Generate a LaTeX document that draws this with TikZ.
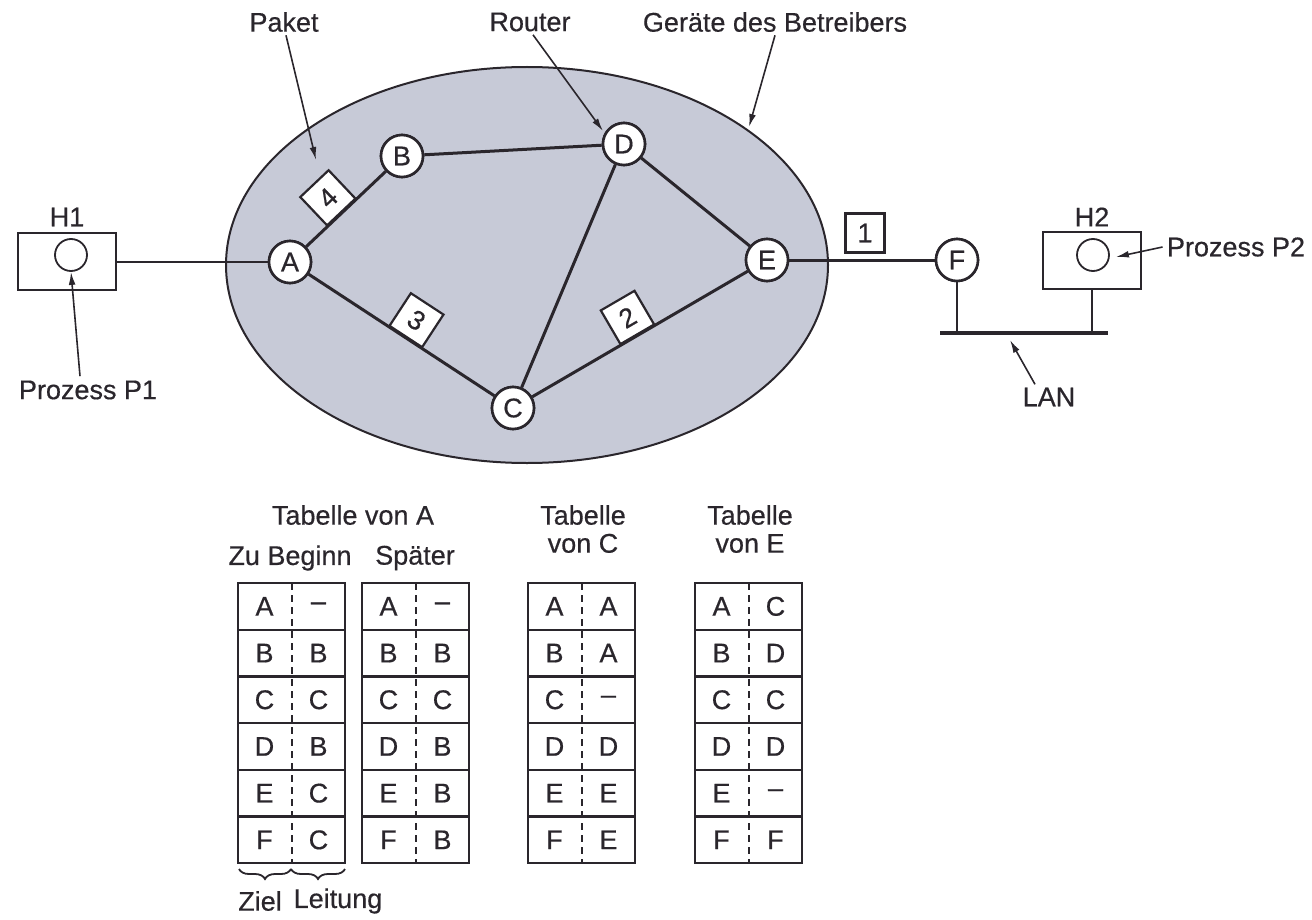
\documentclass[tikz,border=0pt]{standalone}
\usepackage{fontspec}
\setmainfont{Liberation Sans}[FakeBold=0.5]
\usetikzlibrary{arrows.meta,calc,decorations.pathreplacing}
\definecolor{ink}{RGB}{42,38,44}
\definecolor{netfill}{RGB}{199,202,215}
\begin{document}
\begin{tikzpicture}[x=0.5pt,y=-0.5pt,
  font=\fontsize{13.5}{14}\selectfont,
  every node/.style={text=ink},
  router/.style={circle,draw=ink,line width=1.3pt,fill=white,minimum size=21pt,inner sep=0pt},
  link/.style={draw=ink,line width=1.5pt},
  packet/.style={draw=ink,line width=1.1pt,fill=white,minimum size=19.5pt,inner sep=0pt},
  host/.style={draw=ink,line width=1pt,minimum width=49pt,minimum height=28.5pt,inner sep=0pt},
  proc/.style={circle,draw=ink,line width=0.9pt,minimum size=16pt,inner sep=0pt},
  pointer/.style={draw=ink,line width=0.8pt,-{Latex[length=6.5pt,width=3.4pt]}},
  cellbox/.style={draw=ink,line width=1.1pt},
  divider/.style={draw=ink,line width=1pt,dash pattern=on 3.5pt off 2.5pt},
  label/.style={inner sep=0pt,align=center},
]
\useasboundingbox (0,0) rectangle (1312,920);

% operator network
\draw[draw=ink,line width=1pt,fill=netfill] (527,265) ellipse [x radius=150.5pt, y radius=99pt];

% hosts with their processes
\node[host] (H1) at (67,261.5) {};
\node[proc] (pA) at (71,255) {};
\node[host] (H2) at (1092,260.5) {};
\node[proc] (pB) at (1093,255) {};

% router positions
\coordinate (A0) at (290,262);
\coordinate (B0) at (402,156);
\coordinate (C0) at (513,408);
\coordinate (D0) at (624,144);
\coordinate (E0) at (767,260);
\coordinate (F0) at (957,260);

\node[router] (A) at (A0) {A};
\node[router] (B) at (B0) {B};
\node[router] (C) at (C0) {C};
\node[router] (D) at (D0) {D};
\node[router] (E) at (E0) {E};
\node[router] (F) at (F0) {F};

% links
\draw[draw=ink,line width=1pt] (H1.east |- A) -- (A);
\draw[link] (A) -- (B);
\draw[link] (B) -- (D);
\draw[link] (D) -- (E);
\draw[link] (D) -- (C);
\draw[link] (A) -- (C);
\draw[link] (C) -- (E);
\draw[link] (E) -- (F);

% routers again, on top of the links
\foreach \r in {A,B,C,D,E,F}
  \node[router] at (\r0) {\r};

% LAN
\coordinate (busL) at (940,333);
\coordinate (busR) at (1108,333);
\draw[draw=ink,line width=1.6pt] (busL) -- (busR);
\draw[draw=ink,line width=1.2pt] (F.south) -- (F.south |- busL);
\draw[draw=ink,line width=1.2pt] (H2.south) -- (H2.south |- busL);

% packets on their way
\path (A) -- (B) node[packet,pos=0.45,anchor=south,sloped] (p4) {4};
\path (A) -- (C) node[packet,pos=0.52,anchor=south,sloped] (p3) {3};
\path (C) -- (E) node[packet,pos=0.49,anchor=south,sloped] (p2) {2};
\node[packet] (p1) at (865,233) {1};

% labels
\node[label] (tPaket) at (284,22) {Paket};
\node[label] (tRouter) at (530,22) {Router};
\node[label] (tGeraete) at (775,22) {Geräte des Betreibers};
\node[label] (tH1) at (67,217) {H1};
\node[label] (tH2) at (1092,217) {H2};
\node[label] (tP1) at (88,390) {Prozess P1};
\node[label] (tP2) at (1236,247) {Prozess P2};
\node[label] (tLAN) at (1049,397) {LAN};

\coordinate (paketTip) at (316,160);
\coordinate (routerTip) at (603,131);
\coordinate (netTip) at (749,127);
\coordinate (lanTip) at (1010,340);

\draw[pointer] ($(tPaket.south)+(2,3)$) -- (paketTip);
\draw[pointer] ($(tRouter.south)+(3,3)$) -- (routerTip);
\draw[pointer] ($(tGeraete.south)+(0,3)$) -- (netTip);
\draw[pointer] ($(tP1.north)+(-8,-4)$) -- (pA.south);
\draw[pointer] ($(tP2.west)+(-4,0)$) -- ($(pB.east)+(6,2)$);
\draw[pointer] ($(tLAN.north)+(-14,-3)$) -- (lanTip);

% routing tables
\node[label] (ttA) at (353,515) {Tabelle von A};
\node[label] (ttA1) at (290,558) {Zu Beginn};
\node[label] (ttA2) at (415,558) {Später};
\node[label] (ttC) at (583,529) {Tabelle\\von C};
\node[label] (ttE) at (750,529) {Tabelle\\von E};

\def\rowh{46.7}
\def\tabw{107}
\foreach \x/\tab/\entries in {
    238/a/{A/–,B/B,C/C,D/B,E/C,F/C},
    362/b/{A/–,B/B,C/C,D/B,E/B,F/B},
    528/c/{A/A,B/A,C/–,D/D,E/E,F/E},
    695/e/{A/C,B/D,C/C,D/D,E/–,F/F}} {
  \foreach \dst/\via [count=\i from 0] in \entries {
    \draw[cellbox] (\x,583+\i*\rowh) rectangle (\x+\tabw,583+\i*\rowh+\rowh);
    \node (\tab-\i-d) at (\x+26.5,583+\i*\rowh+0.5*\rowh) {\dst};
    \node (\tab-\i-v) at (\x+80.5,583+\i*\rowh+0.5*\rowh) {\via};
  }
  \draw[divider] (\x+53.5,583) -- (\x+53.5,583+6*\rowh);
}

% column legend
\draw[draw=ink,line width=0.9pt,decorate,decoration={brace,mirror,amplitude=5pt}] (239,869) -- (291,869);
\draw[draw=ink,line width=0.9pt,decorate,decoration={brace,mirror,amplitude=5pt}] (291,869) -- (345,869);
\node[label] (tZiel) at (260,901) {Ziel};
\node[label] (tLeit) at (338,901) {Leitung};
\end{tikzpicture}
\end{document}
